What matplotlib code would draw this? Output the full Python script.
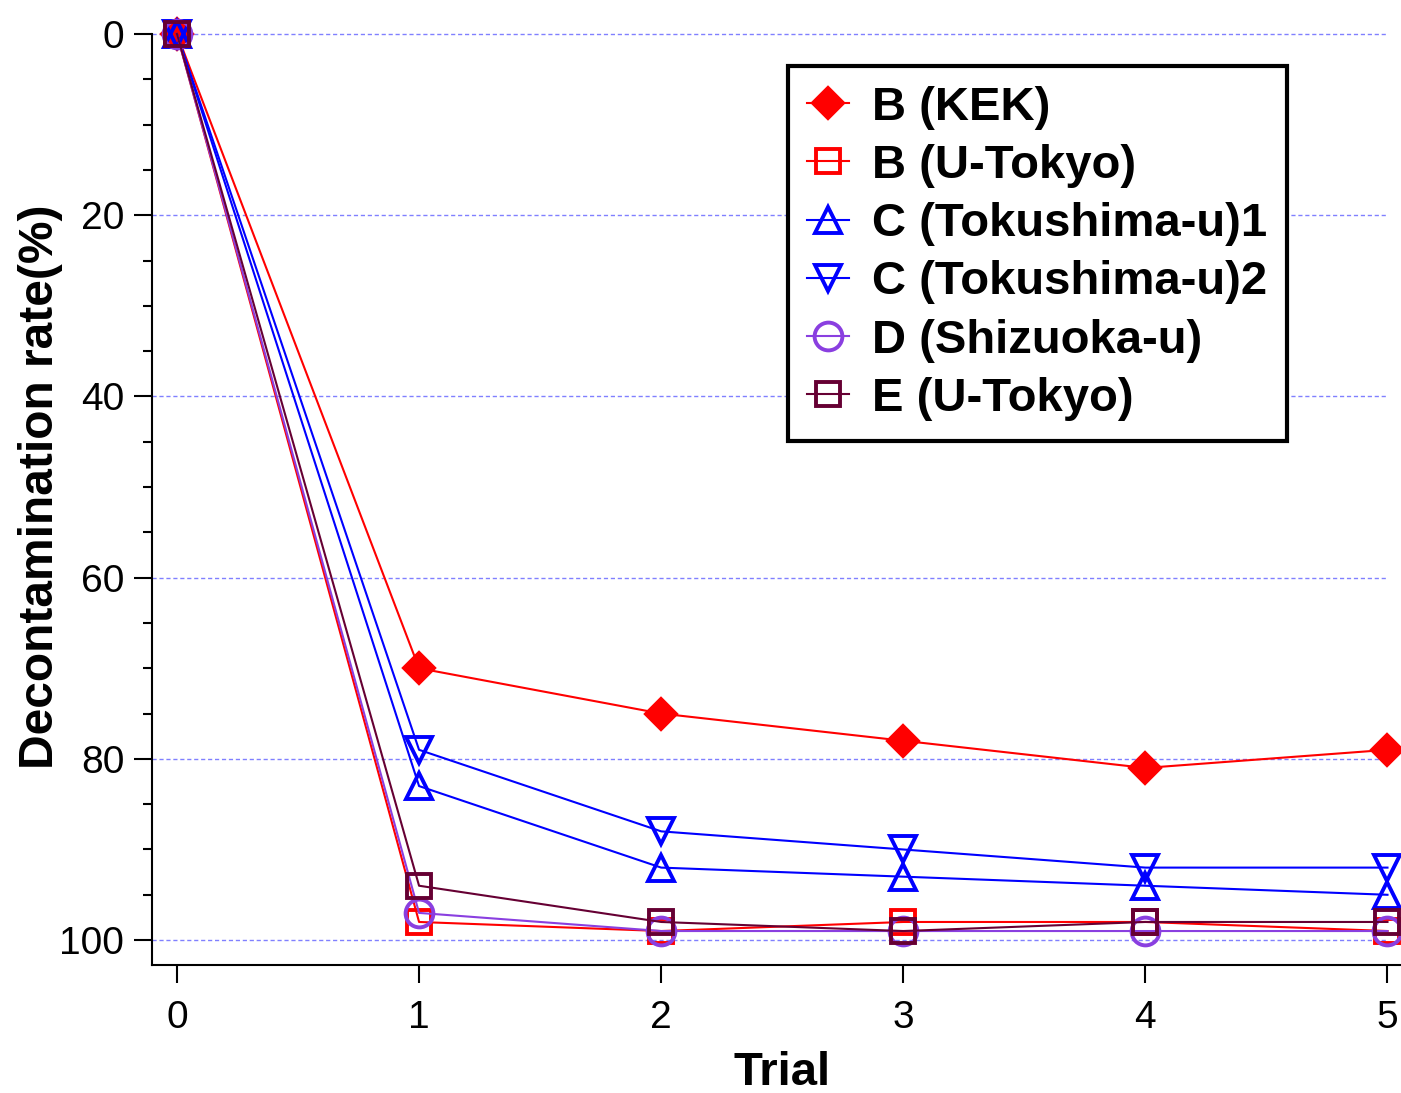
import matplotlib
matplotlib.use("Agg")
import matplotlib.pyplot as plt
from matplotlib.ticker import MultipleLocator

# trial number vs decontamination rate (%)
trials = [0, 1, 2, 3, 4, 5]
b_kek = [0, 70, 75, 78, 81, 79]
b_utokyo = [0, 98, 99, 98, 98, 99]
c_toku1 = [0, 83, 92, 93, 94, 95]
c_toku2 = [0, 79, 88, 90, 92, 92]
d_shizuoka = [0, 97, 99, 99, 99, 99]
e_utokyo = [0, 94, 98, 99, 98, 98]

labels = ["B (KEK)", "B (U-Tokyo)", "C (Tokushima-u)1", "C (Tokushima-u)2",
          "D (Shizuoka-u)", "E (U-Tokyo)"]
series = [b_kek, b_utokyo, c_toku1, c_toku2, d_shizuoka, e_utokyo]
colors = ["#ff0000", "#ff0000", "#0000ff", "#0000ff", "#8a3fe0", "#660033"]
markers = ["D", "s", "^", "v", "o", "s"]
filled = [True, False, False, False, False, False]
msizes = [15, 17.5, 19, 19, 20, 17.5]

plt.rcParams['font.family'] = ['Liberation Sans', 'DejaVu Sans']

fig = plt.figure(figsize=(14.01, 10.93), dpi=100)
ax = fig.add_axes([0.1085, 0.1171, 0.8905, 0.8518])

for y, lab, c, m, f, ms in zip(series, labels, colors, markers, filled, msizes):
	ax.plot(trials, y, color=c, lw=1.5, marker=m, ms=ms, mew=2.8,
		mfc=c if f else 'none', mec=c, label=lab, clip_on=False, zorder=3)

# dashed grid on major y
for g in [0, 20, 40, 60, 80, 100]:
	ax.plot([-0.103, 5], [g, g], color="#8080ff", lw=1, ls=(0, (3, 2)), zorder=1, clip_on=False)

ax.set_xlim(-0.103, 5.05)
ax.set_ylim(102.75, 0)
ax.yaxis.set_major_locator(MultipleLocator(20))
ax.yaxis.set_minor_locator(MultipleLocator(5))
ax.xaxis.set_major_locator(MultipleLocator(1))

for s in ['top', 'right']:
	ax.spines[s].set_visible(False)
for s in ['left', 'bottom']:
	ax.spines[s].set_linewidth(1.5)

ax.tick_params(axis='y', which='major', direction='out', length=13, width=1.5, labelsize=28, pad=7)
ax.tick_params(axis='y', which='minor', direction='out', length=6.5, width=1.5)
ax.tick_params(axis='x', which='major', direction='out', length=13, width=1.5, labelsize=28, pad=12)

ax.set_xlabel("Trial", fontsize=34, fontweight='bold')
ax.xaxis.set_label_coords(0.505, -0.0925)
ax.set_ylabel("Decontamination rate(%)", fontsize=34.5, fontweight='bold')
ax.yaxis.set_label_coords(-0.0713, 0.514)

leg = ax.legend(loc='upper right', bbox_to_anchor=(0.9095, 0.9656), fontsize=34,
	frameon=True, fancybox=False, edgecolor='black', framealpha=1,
	markerscale=1.0, handlelength=0.89, handletextpad=0.47, labelspacing=0.3,
	borderpad=0.42, borderaxespad=0)
leg.get_frame().set_linewidth(3)
for t in leg.get_texts():
	t.set_fontweight('bold')

fig.savefig("out.png", dpi=100)
